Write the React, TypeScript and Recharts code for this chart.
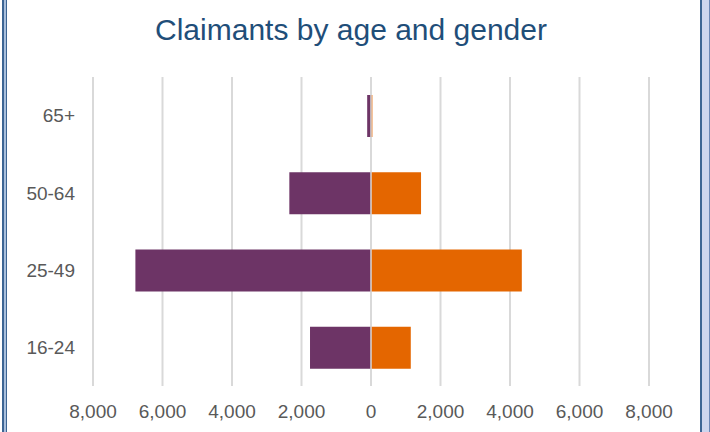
import { Bar, BarChart, CartesianGrid, ReferenceLine, XAxis, YAxis } from "recharts"

const ageGroups = ["65+", "50-64", "25-49", "16-24"]
const maleClaimants = [110, 2350, 6780, 1755]
const femaleClaimants = [40, 1440, 4340, 1145]
const xTicks = [-8000, -6000, -4000, -2000, 0, 2000, 4000, 6000, 8000]

const data = ageGroups.map((age, i) => ({
  age,
  male: -maleClaimants[i],
  female: femaleClaimants[i],
}))

const font = "'Liberation Sans', Arial, sans-serif"

export default function App() {
  return (
    <div style={{ position: "absolute", left: 0, top: 0, width: 710, height: 432, background: "#fff", fontFamily: font }}>
      {/* frame edges */}
      <div style={{ position: "absolute", left: 2, top: 0, width: 2, height: 432, background: "#3d6594" }} />
      <div style={{ position: "absolute", left: 4, top: 0, width: 2, height: 432, background: "#a9bfdc" }} />
      <div style={{ position: "absolute", left: 6, top: 0, width: 1, height: 432, background: "#3d6594" }} />
      <div style={{ position: "absolute", left: 700, top: 0, width: 2, height: 432, background: "#3d6594" }} />
      <div style={{ position: "absolute", left: 702, top: 0, width: 7, height: 432, background: "#cdd5ee" }} />
      <div style={{ position: "absolute", left: 709, top: 0, width: 1, height: 432, background: "#6a86b5" }} />
      <div
        style={{
          position: "absolute",
          left: 0,
          top: 12,
          width: 710,
          textAlign: "center",
          paddingRight: 8,
          boxSizing: "border-box",
          fontSize: 30,
          lineHeight: "36px",
          color: "#1f4e79",
        }}
      >
        Claimants by age and gender
      </div>
      <BarChart
        width={710}
        height={432}
        data={data}
        layout="vertical"
        stackOffset="sign"
        barSize={42}
        margin={{ top: 77, right: 61, bottom: 16, left: 0 }}
        style={{ position: "absolute", left: 0, top: 0 }}
      >
        <CartesianGrid horizontal={false} stroke="#d9d9d9" strokeWidth={2} />
        <XAxis
          type="number"
          domain={[-8000, 8000]}
          ticks={xTicks}
          tickFormatter={(v) => Math.abs(v).toLocaleString("en-US")}
          axisLine={false}
          tickLine={false}
          tickSize={0}
          tickMargin={19}
          height={30}
          tick={{ fill: "#595959", fontSize: 19, fontFamily: font }}
        />
        <YAxis
          type="category"
          dataKey="age"
          width={93}
          axisLine={false}
          tickLine={false}
          tickSize={0}
          tickMargin={18}
          tick={{ fill: "#595959", fontSize: 19, fontFamily: font }}
        />
        <Bar dataKey="male" stackId="a" fill="#6d3466" isAnimationActive={false} />
        <Bar dataKey="female" stackId="a" fill="#e46600" isAnimationActive={false} />
        <ReferenceLine x={0} stroke="#d9d9d9" strokeWidth={1.5} />
      </BarChart>
    </div>
  )
}
